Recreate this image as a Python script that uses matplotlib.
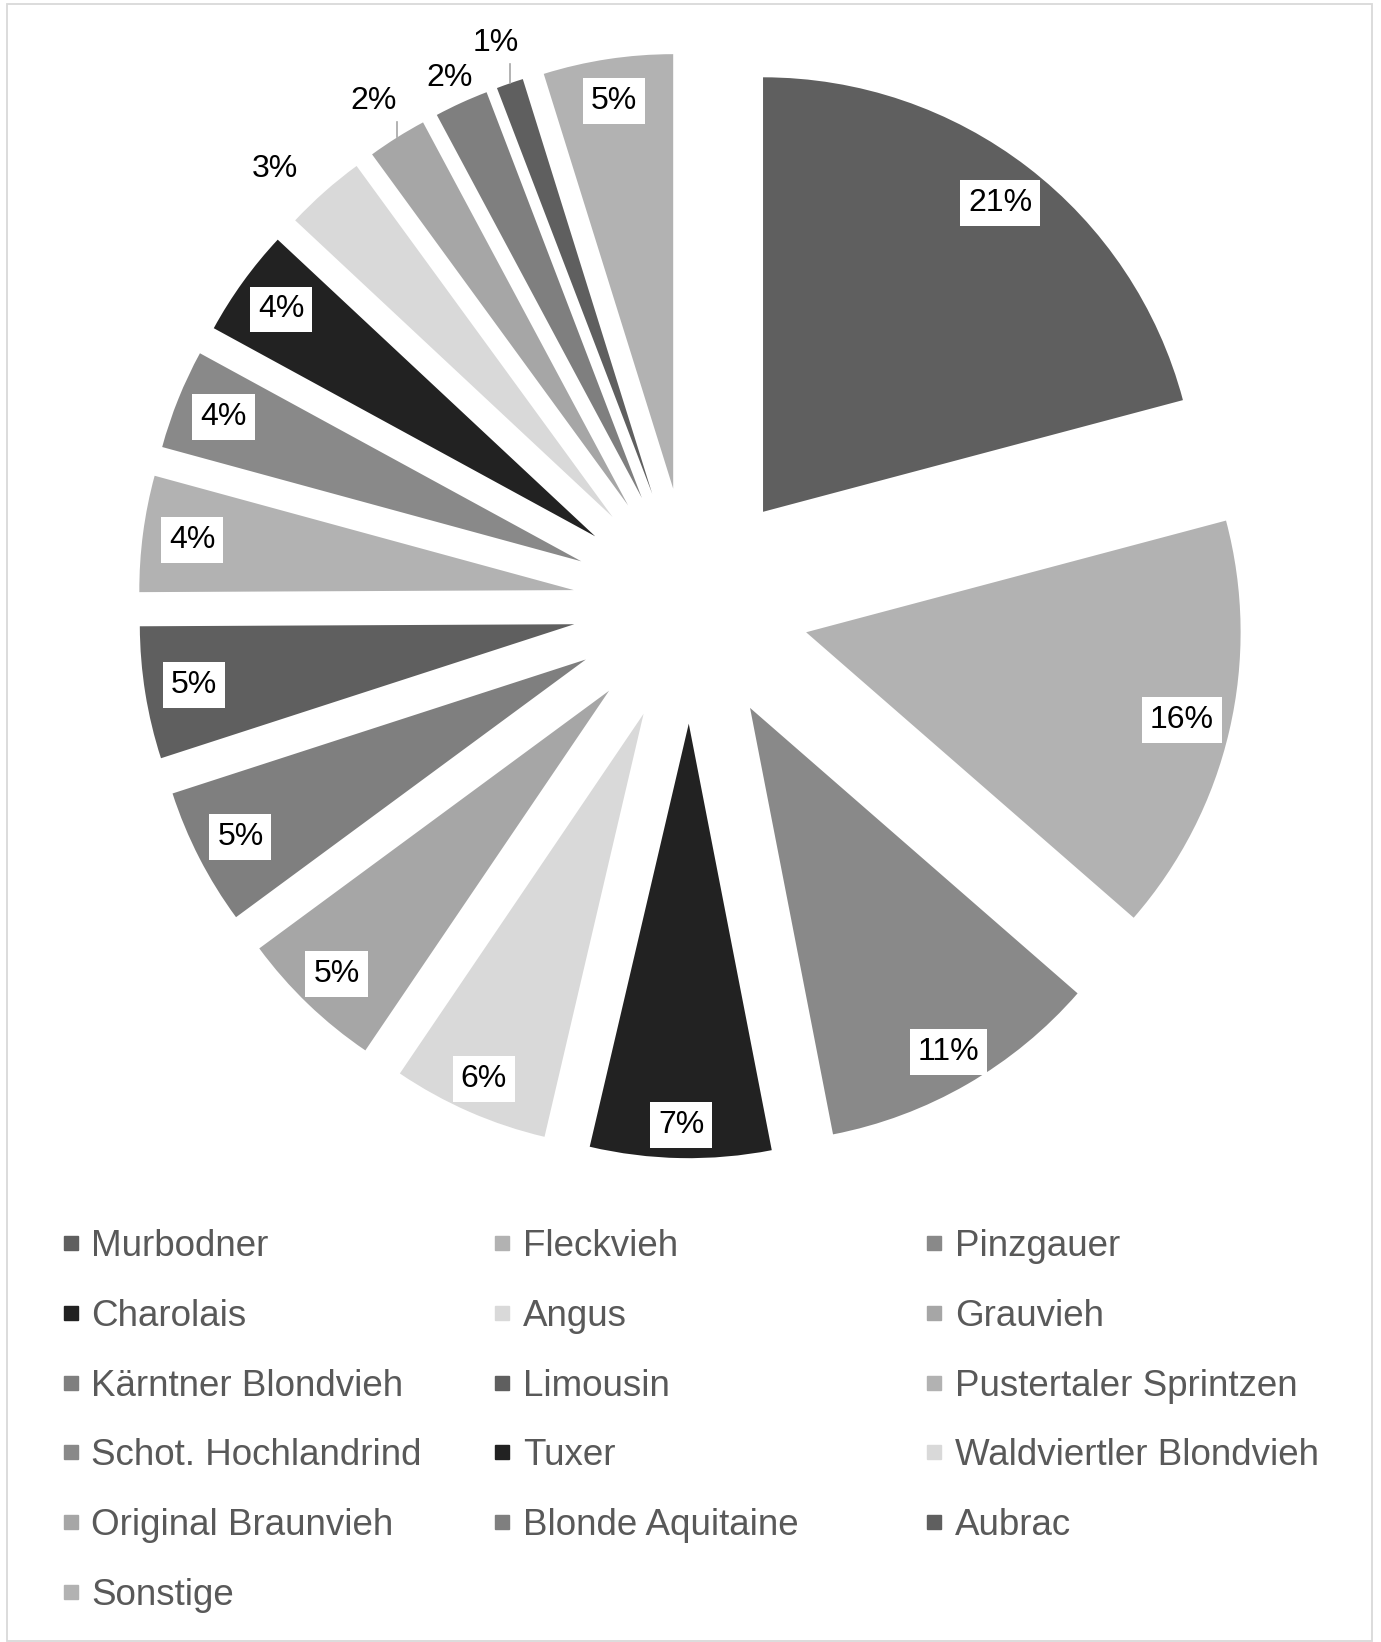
import matplotlib
matplotlib.use("Agg")
import matplotlib.pyplot as plt
from matplotlib.lines import Line2D
from matplotlib.patches import Rectangle
import numpy as np

# ---- data ----
categories = ["Murbodner", "Fleckvieh", "Pinzgauer", "Charolais", "Angus", "Grauvieh",
              "Kärntner Blondvieh", "Limousin", "Pustertaler Sprintzen", "Schot. Hochlandrind",
              "Tuxer", "Waldviertler Blondvieh", "Original Braunvieh", "Blonde Aquitaine",
              "Aubrac", "Sonstige"]
shares = [20.8, 15.5, 10.5, 6.7, 5.8, 5.4, 5.1, 4.9, 4.3, 3.7, 4.0, 3.0, 2.2, 2.0, 1.0, 4.8]
palette = ["#5f5f5f", "#b2b2b2", "#898989", "#222222", "#d9d9d9", "#a6a6a6", "#7f7f7f"]

# label placement style for the small (outside) slices: (radial distance, angle shift deg)
outside_pos = {"Waldviertler Blondvieh": (1.116, 2.6), "Original Braunvieh": (1.10, 0.0),
               "Blonde Aquitaine": (1.064, 0.0), "Aubrac": (1.098, 0.0)}
leader_lines = ["Original Braunvieh", "Aubrac"]

plt.rcParams['font.family'] = ['Liberation Sans', 'DejaVu Sans']

W, H = 1381, 1642
fig = plt.figure(figsize=(W / 100, H / 100), dpi=100)
fig.patch.set_facecolor("white")

# pie geometry in pixels (1 data unit == rpx pixels)
cx, cy, rpx = 691.0, 605.5, 434.5
ax = fig.add_axes([0, 0, 1, 1])
colors = [palette[i % len(palette)] for i in range(len(shares))]
wedges, _ = ax.pie(shares, colors=colors, startangle=90, counterclock=False,
                   explode=[0.272] * len(shares), radius=1.0,
                   wedgeprops=dict(linewidth=0))
ax.set_xlim(-cx / rpx, (W - cx) / rpx)
ax.set_ylim(-(H - cy) / rpx, cy / rpx)
ax.set_aspect('auto')
ax.axis('off')

total = sum(shares)
for name, w, v in zip(categories, wedges, shares):
    pct = 100 * v / total
    thm = (w.theta1 + w.theta2) / 2
    th = np.deg2rad(thm)
    ox, oy = w.center
    dx, dy = np.cos(th), np.sin(th)
    txt = f"{pct:.0f}%"
    if name not in outside_pos:
        # "inside end" labels: a little further out for vertical directions
        down = max(0.0, -dy)
        up = max(0.0, dy)
        d = (385.0 + 16.0 * down ** 2 + 7.0 * up ** 2) / rpx
        ax.text(ox + d * dx, oy + d * dy, txt, ha='center', va='center',
                fontsize=23, color='black',
                bbox=dict(boxstyle='square,pad=0.25', fc='white', ec='none'))
    else:
        d, shift = outside_pos[name]
        tl = np.deg2rad(thm + shift)
        lx, ly = ox + d * np.cos(tl), oy + d * np.sin(tl)
        ax.text(lx, ly, txt, ha='center', va='center', fontsize=23, color='black')
        if name in leader_lines:
            px, py = ox + dx, oy + dy
            ax.plot([px, px], [py, ly - 0.048], color='#a6a6a6', lw=1.2)

# legend: three columns, row-major order
fs = 26.5
col_x = [63.5, 495.0, 927.0]
top_px = 1229
for c in range(3):
    idx = list(range(c, len(categories), 3))
    handles = [Line2D([], [], marker='s', ls='none', color=colors[i], markersize=10)
               for i in idx]
    labels = [categories[i] for i in idx]
    fig.legend(handles, labels, loc='upper left',
               bbox_to_anchor=(col_x[c] / W, 1 - top_px / H),
               frameon=False, fontsize=fs, handlelength=0.4,
               handletextpad=0.36, labelspacing=0.945, borderpad=0,
               borderaxespad=0, labelcolor='#595959')

# chart border
fig.add_artist(Rectangle((6.5 / W, 1.0 / H), (1372 - 6.5) / W, (H - 4.5 - 1.0) / H,
                         transform=fig.transFigure, fill=False,
                         edgecolor='#d9d9d9', lw=1.3))

fig.savefig("out.png", dpi=100, facecolor="white")
